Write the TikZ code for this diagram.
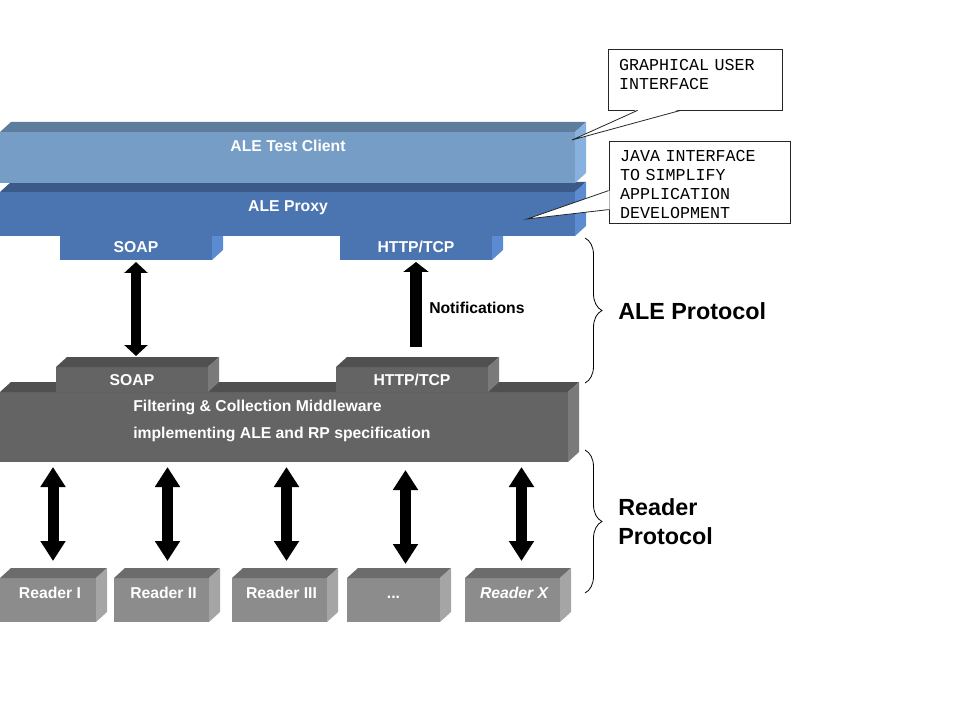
\documentclass[tikz,border=0pt]{standalone}
\usepackage{fontspec}
\setmainfont{Liberation Sans}
\setmonofont{Liberation Mono}
\usepackage{tikz}
\usetikzlibrary{positioning,calc,fit,arrows.meta}
\usetikzlibrary{decorations.pathreplacing}

\definecolor{clientfront}{RGB}{117,157,198}
\definecolor{clienttop}{RGB}{93,124,158}
\definecolor{clientside}{RGB}{135,178,224}
\definecolor{proxyfront}{RGB}{74,117,177}
\definecolor{proxytop}{RGB}{59,90,138}
\definecolor{proxyside}{RGB}{91,140,210}
\definecolor{mwfront}{RGB}{100,100,100}
\definecolor{mwtop}{RGB}{80,80,80}
\definecolor{mwside}{RGB}{122,122,122}
\definecolor{readfront}{RGB}{140,140,140}
\definecolor{readtop}{RGB}{108,108,108}
\definecolor{readside}{RGB}{165,165,165}

\begin{document}
\begin{tikzpicture}[x=0.75pt, y=-0.75pt,
    face/.style={inner sep=0pt, outer sep=0pt},
    lbl/.style={font=\fontsize{11.8}{14}\selectfont\bfseries, inner sep=0pt},
    boxtext/.style={lbl, text=white},
    bigtext/.style={font=\fontsize{17.5}{21.75}\selectfont\bfseries, inner sep=0pt},
    remark/.style={rectangle, draw=black!85, fill=white, line width=0.6pt,
      font=\ttfamily\fontsize{12.5}{14.25}\selectfont, align=left, inner xsep=8.25pt},
    pointer/.style={draw=black!85, line width=0.6pt, line join=miter},
    protbrace/.style={decorate, decoration={brace, amplitude=12.75pt}, line width=0.6pt},
    dblarrow/.style={line width=8.25pt,
      {Triangle[width=18pt,length=15pt]}-{Triangle[width=18pt,length=15pt]}},
    soaparrow/.style={line width=7.5pt,
      {Triangle[width=17.25pt,length=8.25pt]}-{Triangle[width=17.25pt,length=8.25pt]}},
    notifarrow/.style={line width=9pt, -{Triangle[width=18.75pt,length=7.5pt]}}]

\useasboundingbox (0,0) rectangle (960,720);

% Depth of the blocks (pixels of the reference picture)
\def \dx{11}
\def \dy{10}

% A block: name, front corners, front colour, top colour, side colour
\def\block#1#2#3#4#5#6{%
  \node[face, fill=#4, fit={#2 #3}] (#1) {};
  \fill[#5] (#1.north west) -- ++(\dx,-\dy) -- ($(#1.north east)+(\dx,-\dy)$)
            -- (#1.north east) -- cycle;
  \fill[#6] (#1.north east) -- ++(\dx,-\dy) -- ($(#1.south east)+(\dx,-\dy)$)
            -- (#1.south east) -- cycle;
}

% Interfaces below the proxy (drawn first, the proxy hides their tops)
\block{tsoap}{(60,236)}{(212,260)}{proxyfront}{proxytop}{proxyside}
\block{thttp}{(340,236)}{(492,260)}{proxyfront}{proxytop}{proxyside}
\node[boxtext, anchor=base] (tsoapt) at ($(tsoap.center)+(0,5)$) {SOAP};
\node[boxtext, anchor=base] (thttpt) at ($(thttp.center)+(0,5)$) {HTTP/TCP};

% Proxy and test client
\block{proxy}{(0,192)}{(575,236)}{proxyfront}{proxytop}{proxyside}
\block{client}{(0,132)}{(575,183)}{clientfront}{clienttop}{clientside}
\node[boxtext, anchor=base] (proxyt) at (288,212) {ALE Proxy};
\node[boxtext, anchor=base] (clientt) at (288,152) {ALE Test Client};

% Middleware with its two interfaces
\block{mw}{(0,392)}{(568,462)}{mwfront}{mwtop}{mwside}
\block{msoap}{(56,367)}{(208,392)}{mwfront}{mwtop}{mwside}
\block{mhttp}{(336,367)}{(488,392)}{mwfront}{mwtop}{mwside}
\node[boxtext, anchor=base] (msoapt) at ($(msoap.center)+(0,6)$) {SOAP};
\node[boxtext, anchor=base] (mhttpt) at ($(mhttp.center)+(0,6)$) {HTTP/TCP};
\node[boxtext, anchor=base west] (mwt1) at (133,411) {Filtering \& Collection Middleware};
\node[boxtext, anchor=base west] (mwt2) at (133,438) {implementing ALE and RP specification};

% Readers
\foreach \n/\a/\b in {rI/0/96, rII/114/209, rIII/232/327, rdots/347/440, rX/465/560}
  \block{\n}{(\a,578)}{(\b,622)}{readfront}{readtop}{readside};
\foreach \n/\t in {rI/Reader I, rII/Reader II, rIII/Reader III, rX/\textit{Reader X}}
  \node[boxtext, anchor=base] (\n-t) at ($(\n.center)+(2,-2)$) {\t};
\node[boxtext, anchor=base] (rdots-t) at ($(rdots.center)+(0,-2)$) {...};

% Arrows
\draw[soaparrow] ([yshift=-1.5pt]tsoap.south) -- ($(tsoap.south |- msoap.north)+(0,-11)$);
\draw[notifarrow] ($(thttp.south |- mhttp.north)+(0,-20)$) -- ([yshift=-1.5pt]thttp.south);
\node[lbl, anchor=base west] (notif) at (429,314) {Notifications};
\foreach \n/\s/\t in {rI/5/0, rII/6/0, rIII/7/0, rdots/12/3, rX/9/0}
  \draw[dblarrow] ($(\n.north |- mw.south)+(\s,5+\t)$) -- ($(\n.north)+(\s,-17+\t)$);

% Callouts (box, then its pointer)
\coordinate (guitip) at (572,140);
\coordinate (javatip) at (527,219);
\node[remark, text width=114pt, minimum height=45.75pt, text depth=21.75pt]
      (gui) at (695,79.5) {GRAPHICAL USER\\INTERFACE};
\fill[white] ($(gui.south west)+(30,-1)$) -- (guitip) -- ($(gui.south west)+(73,-1)$) -- cycle;
\draw[pointer] ($(gui.south west)+(30,0)$) -- (guitip) -- ($(gui.south west)+(73,0)$);
\node[remark, text width=119.25pt, minimum height=61.5pt, text depth=39pt]
      (java) at (699.5,182) {JAVA INTERFACE\\TO SIMPLIFY\\APPLICATION\\DEVELOPMENT};
\fill[white] ($(java.north west)+(1,50)$) -- (javatip) -- ($(java.north west)+(1,69)$) -- cycle;
\draw[pointer] ($(java.north west)+(0,50)$) -- (javatip) -- ($(java.north west)+(0,69)$);

% Protocol braces
\draw[protbrace] (585,238) -- (585,383);
\draw[protbrace] (585,450) -- (585,593);
\node[bigtext, anchor=base west] (aleprot) at (618,320) {ALE Protocol};
\node[bigtext, anchor=west, align=left] (readprot) at (618,522) {Reader\\Protocol};
\end{tikzpicture}
\end{document}
